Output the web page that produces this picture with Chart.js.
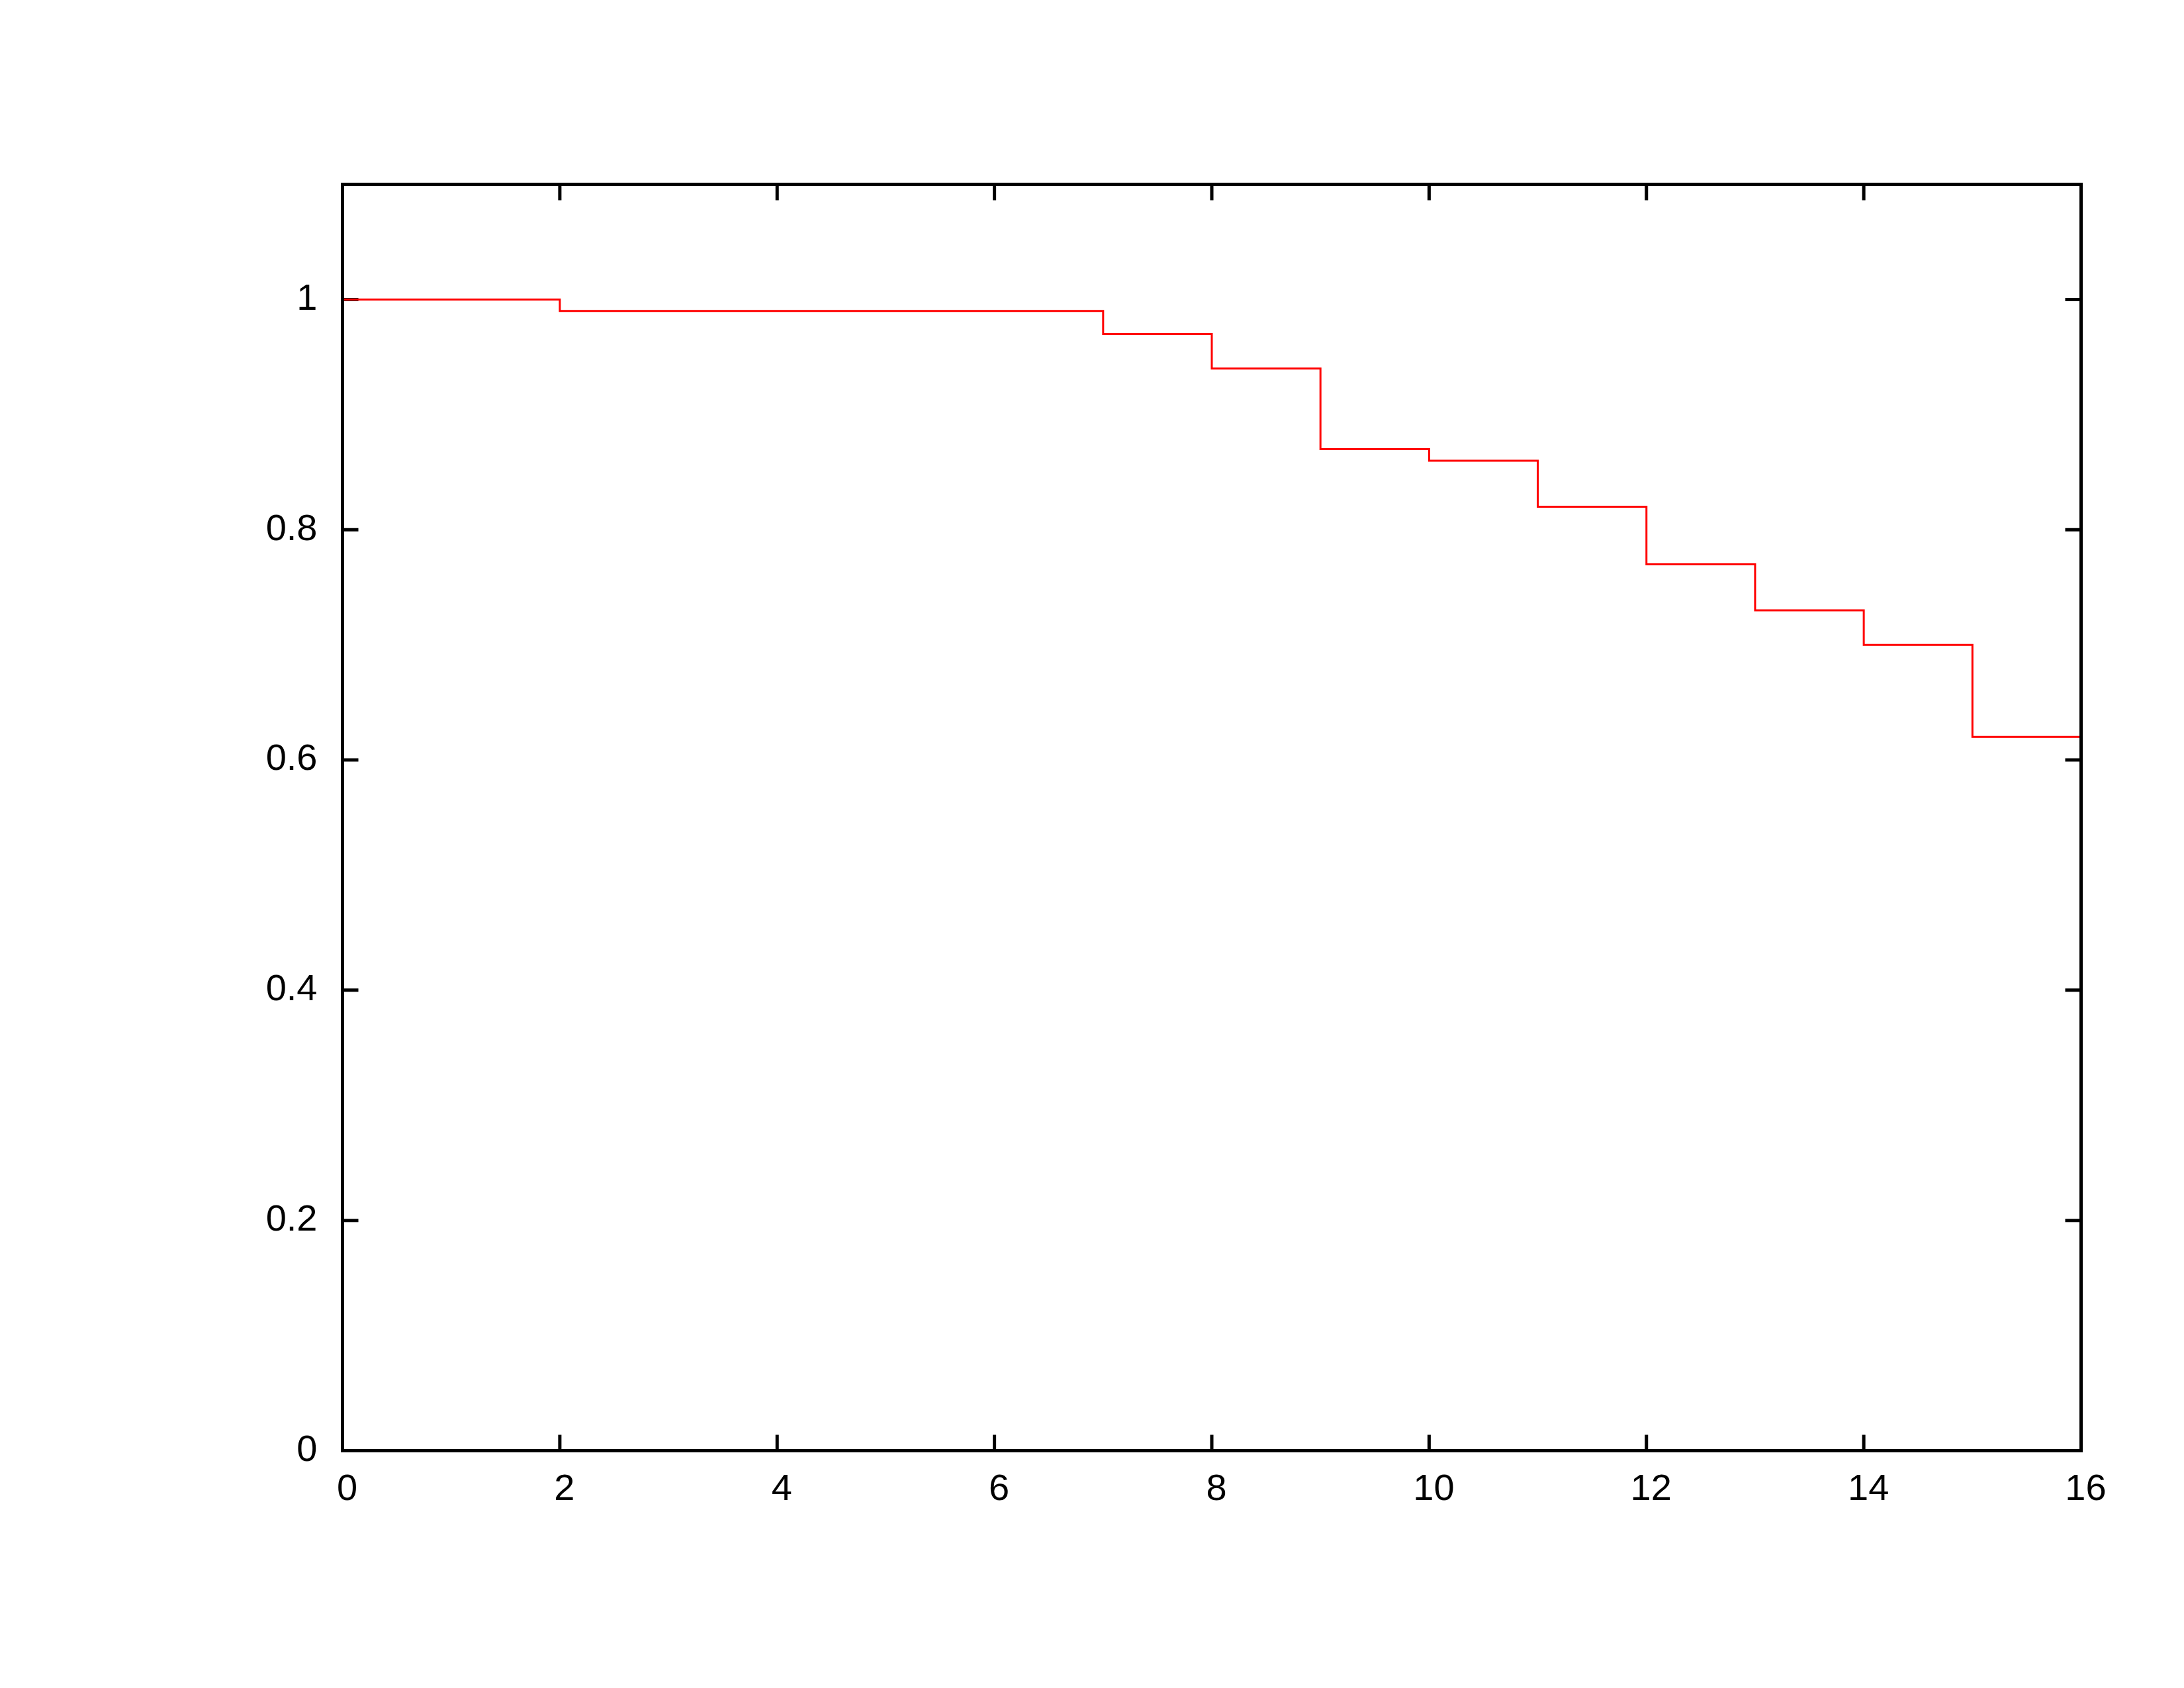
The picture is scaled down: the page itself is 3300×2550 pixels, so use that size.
<!DOCTYPE html>
<html>
<head>
<meta charset="utf-8">
<script src="https://cdn.jsdelivr.net/npm/chart.js@4"></script>
<style>
  html, body { margin: 0; padding: 0; background: #fff; }
  #wrap { width: 3300px; height: 2550px; }
</style>
</head>
<body>
<div id="wrap"><canvas id="chart" width="3300" height="2550"></canvas></div>
<script>
// step curve: value holds from each x until the next one
const stepX    = [0, 2, 7, 8, 9, 10, 11, 12, 13, 14, 15, 16];
const survival = [1.0, 0.99, 0.97, 0.94, 0.87, 0.86, 0.82, 0.77, 0.73, 0.70, 0.62, 0.62];

const xTickValues = [0, 2, 4, 6, 8, 10, 12, 14, 16];
const yTickValues = [0, 0.2, 0.4, 0.6, 0.8, 1];

const FONT = { family: "'Liberation Sans', Arial, sans-serif", size: 56 };

// ─── gnuplot style frame + inward ticks on all four sides ───
const framePlugin = {
  id: "frame",
  beforeDatasetsDraw(chart) {
    const { ctx, chartArea: a, scales } = chart;
    const len = 24;
    ctx.save();
    ctx.strokeStyle = "#000";
    ctx.lineWidth = 5;
    ctx.beginPath();
    scales.x.ticks.forEach(t => {
      const px = scales.x.getPixelForValue(t.value);
      ctx.moveTo(px, a.bottom); ctx.lineTo(px, a.bottom - len);
      ctx.moveTo(px, a.top);    ctx.lineTo(px, a.top + len);
    });
    scales.y.ticks.forEach(t => {
      const py = scales.y.getPixelForValue(t.value);
      ctx.moveTo(a.left, py);  ctx.lineTo(a.left + len, py);
      ctx.moveTo(a.right, py); ctx.lineTo(a.right - len, py);
    });
    ctx.stroke();
    ctx.restore();
  },
  afterDatasetsDraw(chart) {
    const { ctx, chartArea: a } = chart;
    ctx.save();
    ctx.strokeStyle = "#000";
    ctx.lineWidth = 5;
    ctx.strokeRect(a.left, a.top, a.right - a.left, a.bottom - a.top);
    ctx.restore();
  }
};

new Chart(document.getElementById("chart"), {
  type: "line",
  data: {
    datasets: [{
      data: stepX.map((x, i) => ({ x, y: survival[i] })),
      borderColor: "#ff0000",
      borderWidth: 3,
      stepped: "before",
      pointRadius: 0,
      fill: false
    }]
  },
  options: {
    responsive: false,
    animation: false,
    layout: { padding: { top: 278.5, right: 155.5, left: 0, bottom: 0 } },
    plugins: { legend: { display: false }, tooltip: { enabled: false } },
    scales: {
      x: {
        type: "linear",
        min: 0, max: 16,
        grid: { display: false, drawTicks: false },
        border: { display: false },
        afterBuildTicks: s => { s.ticks = xTickValues.map(v => ({ value: v })); },
        afterFit: s => { s.height = 358.5; },
        ticks: {
          color: "#000", font: FONT, padding: 25, labelOffset: 7,
          maxRotation: 0, autoSkip: false,
          callback: v => String(v)
        }
      },
      y: {
        type: "linear",
        min: 0, max: 1.1,
        grid: { display: false, drawTicks: false },
        border: { display: false },
        afterBuildTicks: s => { s.ticks = yTickValues.map(v => ({ value: v })); },
        afterFit: s => { s.width = 517.5; },
        ticks: {
          color: "#000", font: FONT, padding: 38,
          autoSkip: false,
          callback: v => String(+v.toFixed(1))
        }
      }
    }
  },
  plugins: [framePlugin]
});
</script>
</body>
</html>
